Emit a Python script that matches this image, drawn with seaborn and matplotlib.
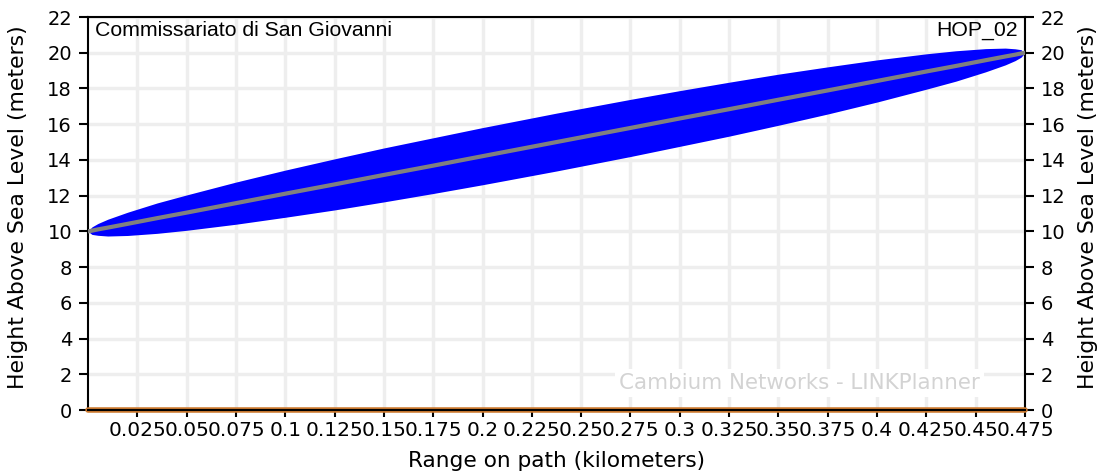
import pandas as pd
import matplotlib.pyplot as plt
import seaborn as sns

# path profile
path_range = [0, 0.002, 0.005, 0.01, 0.02, 0.035, 0.05, 0.075, 0.1, 0.125, 0.15, 0.175, 0.2,
              0.2375, 0.275, 0.3, 0.325, 0.35, 0.375, 0.4, 0.425, 0.44, 0.455, 0.465, 0.47, 0.473, 0.475]
line_height = [10.0, 10.04, 10.11, 10.21, 10.42, 10.74, 11.05, 11.58, 12.11, 12.63, 13.16, 13.68, 14.21,
               15.0, 15.79, 16.32, 16.84, 17.37, 17.89, 18.42, 18.95, 19.26, 19.58, 19.79, 19.89, 19.96, 20.0]
zone_half = [0, 0.21, 0.33, 0.47, 0.65, 0.85, 0.99, 1.18, 1.32, 1.43, 1.51, 1.56, 1.60,
             1.62, 1.60, 1.56, 1.51, 1.43, 1.32, 1.18, 0.99, 0.85, 0.65, 0.47, 0.33, 0.21, 0]
terrain_range = [0, 0.475]
terrain_height = [0, 0]

x_ticks = [0.025, 0.05, 0.075, 0.1, 0.125, 0.15, 0.175, 0.2, 0.225, 0.25, 0.275, 0.3, 0.325,
           0.35, 0.375, 0.4, 0.425, 0.45, 0.475]
x_labels = ['0.025', '0.05', '0.075', '0.1', '0.125', '0.15', '0.175', '0.2', '0.225', '0.25',
            '0.275', '0.3', '0.325', '0.35', '0.375', '0.4', '0.425', '0.45', '0.475']
y_ticks = list(range(0, 23, 2))

sns.set_style('white')
plt.rcParams['font.family'] = ['DejaVu Sans']
for k in ['text.color', 'axes.labelcolor', 'xtick.color', 'ytick.color']:
    plt.rcParams[k] = 'black'

df = pd.DataFrame({'range': path_range, 'height': line_height, 'half': zone_half})
df['upper'] = df['height'] + df['half']
df['lower'] = df['height'] - df['half']
ground = pd.DataFrame({'range': terrain_range, 'height': terrain_height})

fig = plt.figure(figsize=(11, 4.75), dpi=100)
ax = fig.add_axes([0.08, 0.1368, 0.8518, 0.8274])

ax.fill_between(df['range'], df['lower'], df['upper'], color='#0000ff', lw=0, zorder=2)
sns.lineplot(data=df, x='range', y='height', color='#808080', lw=3, ax=ax, zorder=3)
sns.lineplot(data=ground, x='range', y='height', color='#cc7a30', lw=4, ax=ax, zorder=4, clip_on=False)

ax.set_xlim(0, 0.475)
ax.set_ylim(0, 22)
ax.set_xticks(x_ticks)
ax.set_xticklabels(x_labels)
ax.set_yticks(y_ticks)
ax.grid(True, color='#eeeeee', lw=2.5, zorder=0)
ax.set_axisbelow(True)

for s in ['left', 'right', 'top', 'bottom']:
    ax.spines[s].set_color('black')
    ax.spines[s].set_linewidth(1.5)
ax.spines['bottom'].set_zorder(5)

ax.tick_params(axis='y', direction='out', length=6.5, width=1.5, color='black',
               labelsize=14, pad=5, left=True, right=True, labelright=True)
ax.tick_params(axis='x', direction='out', length=5, width=1.5, color='black',
               labelsize=14.5, pad=3, bottom=True)
ax.set_xlabel('Range on path (kilometers)', fontsize=15.6, labelpad=8)
ax.set_ylabel('')
ax.text(-0.075, 0.515, 'Height Above Sea Level (meters)', transform=ax.transAxes, rotation=90,
        ha='center', va='center', fontsize=15.8)
ax.text(1.067, 0.515, 'Height Above Sea Level (meters)', transform=ax.transAxes, rotation=90,
        ha='center', va='center', fontsize=15.8)

ax.text(0.008, 0.99, 'Commissariato di San Giovanni', transform=ax.transAxes, ha='left', va='top',
        fontsize=15.3, family='Liberation Sans')
ax.text(0.992, 0.99, 'HOP_02', transform=ax.transAxes, ha='right', va='top',
        fontsize=15.3, family='Liberation Sans')
ax.text(0.952, 0.068, 'Cambium Networks - LINKPlanner', transform=ax.transAxes, ha='right', va='center',
        fontsize=15.4, color='#d3d3d3', zorder=6,
        bbox=dict(facecolor='white', edgecolor='none', pad=3))

if ax.get_legend():
    ax.get_legend().remove()

fig.savefig('out.png', dpi=100)
